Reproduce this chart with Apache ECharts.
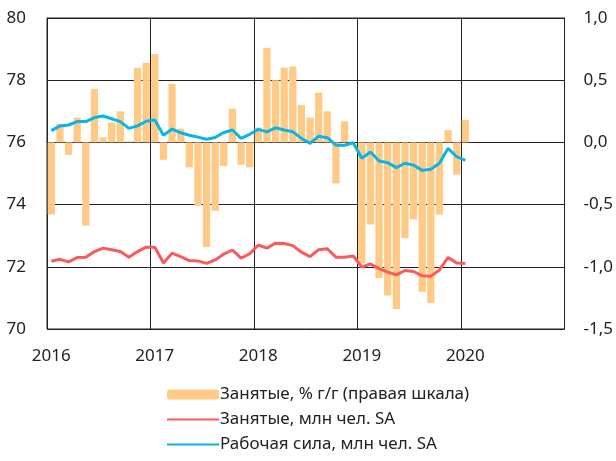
<!DOCTYPE html>
<html>
<head>
<meta charset="utf-8">
<script src="https://cdn.jsdelivr.net/npm/echarts@6/dist/echarts.min.js"></script>
<style>
  html, body { margin: 0; padding: 0; background: #fff; }
  #chart { width: 616px; height: 461px; }
</style>
</head>
<body>
<div id="chart"></div>
<script>
// месяцы 2016-01 .. 2020-12
const years = ['2016', '2017', '2018', '2019', '2020'];
const months = [];
years.forEach(function (y) {
    for (let m = 1; m <= 12; m++) {
        months.push(y + '-' + (m < 10 ? '0' + m : m));
    }
});

// Занятые, % г/г (правая шкала)
const employedYoY = [
    -0.58, 0.15, -0.10, 0.20, -0.67, 0.43, 0.04, 0.16, 0.25, 0.01, 0.60, 0.64,
    0.71, -0.14, 0.47, 0.11, -0.20, -0.51, -0.84, -0.55, -0.19, 0.27, -0.18, -0.20,
    0.12, 0.76, 0.50, 0.60, 0.61, 0.30, 0.20, 0.40, 0.25, -0.33, 0.17, 0.00,
    -0.97, -0.66, -1.09, -1.23, -1.34, -0.77, -0.62, -1.20, -1.29, -0.58, 0.10, -0.26,
    0.18
];

// Занятые, млн чел. SA
const employed = [
    72.18, 72.24, 72.16, 72.30, 72.31, 72.49, 72.60, 72.55, 72.49, 72.31, 72.49, 72.63,
    72.63, 72.12, 72.44, 72.33, 72.20, 72.19, 72.11, 72.22, 72.41, 72.54, 72.28, 72.42,
    72.70, 72.60, 72.76, 72.75, 72.68, 72.47, 72.33, 72.55, 72.58, 72.31, 72.31, 72.35,
    71.99, 72.09, 71.94, 71.83, 71.74, 71.88, 71.85, 71.71, 71.70, 71.90, 72.30, 72.12,
    72.11
];

// Рабочая сила, млн чел. SA
const labourForce = [
    76.38, 76.53, 76.56, 76.67, 76.67, 76.80, 76.85, 76.76, 76.67, 76.45, 76.53, 76.68,
    76.72, 76.23, 76.43, 76.31, 76.23, 76.17, 76.10, 76.16, 76.32, 76.40, 76.13, 76.26,
    76.42, 76.34, 76.47, 76.40, 76.34, 76.13, 75.97, 76.20, 76.15, 75.91, 75.91, 75.99,
    75.49, 75.69, 75.40, 75.35, 75.19, 75.33, 75.27, 75.10, 75.14, 75.33, 75.81, 75.54,
    75.42
];

const chart = echarts.init(document.getElementById('chart'));
const fontFamily = '"Noto Sans", "Open Sans", sans-serif';
const gridColor = '#222';
const noSymbol = { color: 'rgba(0,0,0,0)', borderWidth: 0 };

const option = {
    animation: false,
    textStyle: { fontFamily: fontFamily },
    grid: {
        left: 47,
        top: 18,
        width: 520,
        height: 311,
        show: true,
        borderColor: gridColor,
        borderWidth: 1
    },
    legend: {
        orient: 'vertical',
        left: 161,
        top: 381,
        itemWidth: 52,
        itemHeight: 10,
        itemGap: 8,
        textStyle: { fontSize: 17, color: '#222', fontFamily: fontFamily, padding: [0, 0, 0, -4] },
        data: [
            { name: 'Занятые, % г/г (правая шкала)' },
            { name: 'Занятые, млн чел. SA', itemStyle: noSymbol },
            { name: 'Рабочая сила, млн чел. SA', itemStyle: noSymbol }
        ]
    },
    xAxis: {
        type: 'category',
        data: months,
        boundaryGap: true,
        axisLine: { show: true, lineStyle: { color: gridColor, width: 1 } },
        axisTick: { show: false },
        axisLabel: {
            interval: function (index) { return index % 12 === 0; },
            formatter: function (v) { return v.slice(0, 4); },
            fontSize: 17,
            color: '#222',
            margin: 19
        },
        splitLine: {
            show: true,
            interval: function (index) { return index % 12 === 0; },
            lineStyle: { color: gridColor, width: 1 }
        }
    },
    yAxis: [
        {
            type: 'value',
            min: 70,
            max: 80,
            interval: 2,
            axisLine: { show: true, lineStyle: { color: gridColor } },
            axisTick: { show: false },
            axisLabel: { fontSize: 17, color: '#222', margin: 21 },
            splitLine: { show: true, lineStyle: { color: gridColor, width: 1 } }
        },
        {
            type: 'value',
            min: -1.5,
            max: 1.0,
            interval: 0.5,
            position: 'right',
            axisLine: { show: true, lineStyle: { color: gridColor } },
            axisTick: { show: false },
            axisLabel: {
                fontSize: 17,
                color: '#222',
                margin: 19,
                formatter: function (v) { return v.toFixed(1).replace('.', ','); }
            },
            splitLine: { show: false }
        }
    ],
    series: [
        {
            name: 'Занятые, % г/г (правая шкала)',
            type: 'bar',
            yAxisIndex: 1,
            data: employedYoY,
            barCategoryGap: '16%',
            itemStyle: { color: '#FFCA85' }
        },
        {
            name: 'Занятые, млн чел. SA',
            type: 'line',
            yAxisIndex: 0,
            data: employed,
            symbol: 'none',
            lineStyle: { color: '#FA5A5A', width: 3 },
            itemStyle: { color: '#FA5A5A' },
            z: 5
        },
        {
            name: 'Рабочая сила, млн чел. SA',
            type: 'line',
            yAxisIndex: 0,
            data: labourForce,
            symbol: 'none',
            lineStyle: { color: '#0AB4E6', width: 3 },
            itemStyle: { color: '#0AB4E6' },
            z: 5
        }
    ]
};

chart.setOption(option);
</script>
</body>
</html>
